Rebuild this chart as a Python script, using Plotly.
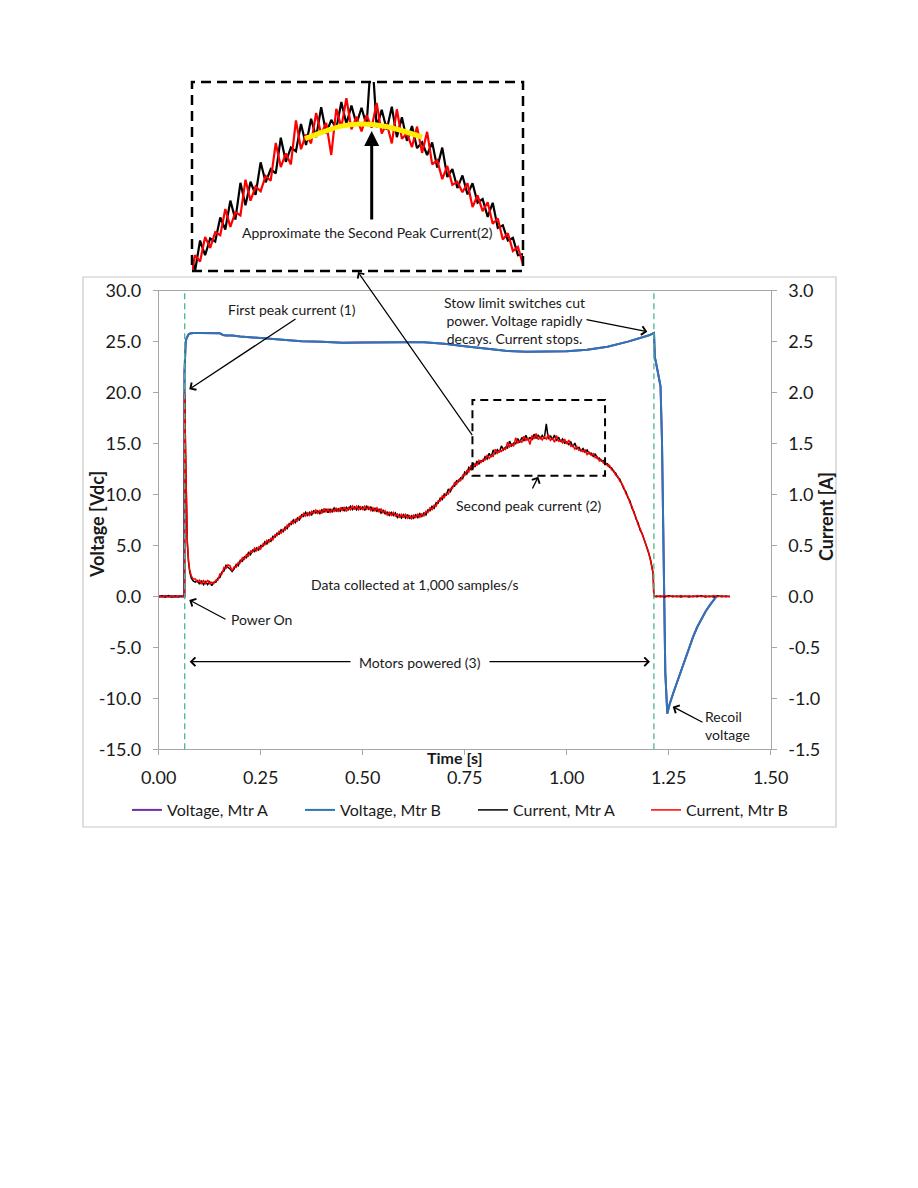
import plotly.graph_objects as go

W, H = 918, 1188
ML, MR, MT, MB = 82, 82, 82, 360
PW = W - ML - MR
PH = H - MT - MB


def px(x):
    return (x - ML) / PW


def py(y):
    return (H - MB - y) / PH


FONT = "Lato, 'Open Sans', sans-serif"

# ---------------- data ----------------
# Voltage (V)
volt_t = [0.000, 0.030, 0.0630, 0.0632, 0.064, 0.066, 0.068, 0.070, 0.073, 0.077, 0.085, 0.100,
          0.130, 0.150, 0.158, 0.165, 0.180, 0.200, 0.250, 0.300, 0.350, 0.400, 0.450, 0.500,
          0.550, 0.600, 0.650, 0.700, 0.750, 0.800, 0.850, 0.900, 0.950, 1.000, 1.050, 1.100,
          1.150, 1.180, 1.200, 1.214, 1.216, 1.223, 1.230, 1.2335, 1.235, 1.237, 1.2385, 1.2417,
          1.2466, 1.252, 1.261, 1.270, 1.280, 1.290, 1.300, 1.310, 1.320, 1.330, 1.340,
          1.350, 1.360, 1.367]
volt_b = [0.0, 0.0, 0.0, 22.0, 24.0, 24.9, 25.3, 25.55, 25.7, 25.8, 25.85, 25.85,
          25.85, 25.82, 25.65, 25.6, 25.6, 25.5, 25.35, 25.2, 25.05, 25.0, 24.9, 24.92,
          24.95, 24.95, 24.93, 24.8, 24.55, 24.3, 24.1, 24.0, 24.0, 24.05, 24.2, 24.5,
          25.0, 25.35, 25.6, 25.85, 23.5, 22.1, 20.6, 15.35, 10.44, 3.9, -2.64, -7.5,
          -11.5, -10.6, -9.5, -8.5, -7.4, -6.2, -5.0, -3.95, -3.0, -2.2, -1.5,
          -0.9, -0.35, 0.0]
volt_a = list(volt_b)

# Current (A) - before power on
cur_t_pre = [0.000, 0.008, 0.016, 0.024, 0.032, 0.040, 0.048, 0.056, 0.063]
cur_b_pre = [0.006, -0.006, 0.008, -0.004, 0.007, -0.008, 0.004, 0.007, 0.000]
cur_a_pre = [-0.004, 0.006, -0.005, 0.008, -0.006, 0.005, -0.004, 0.005, 0.000]
# first peak and decay
cur_t_rise = [0.0635, 0.066, 0.068, 0.070, 0.073, 0.076, 0.080, 0.085]
cur_b_rise = [2.00, 1.40, 0.90, 0.55, 0.36, 0.26, 0.20, 0.17]
cur_a_rise = [1.99, 1.38, 0.88, 0.53, 0.34, 0.24, 0.18, 0.15]
# main powered period, sampled every 5 ms starting at 0.090 s
cur_main_t0 = 0.090
cur_main_dt = 0.005
cur_b_main = [
    0.170, 0.140, 0.160, 0.125, 0.155, 0.125, 0.160, 0.125, 0.140, 0.125,
    0.160, 0.160, 0.220, 0.220, 0.285, 0.275, 0.310, 0.300, 0.250, 0.290,
    0.285, 0.335, 0.330, 0.380, 0.365, 0.410, 0.395, 0.445, 0.435, 0.475,
    0.450, 0.485, 0.465, 0.515, 0.505, 0.550, 0.530, 0.570, 0.555, 0.605,
    0.595, 0.640, 0.620, 0.660, 0.650, 0.700, 0.690, 0.735, 0.715, 0.755,
    0.740, 0.785, 0.775, 0.815, 0.790, 0.820, 0.795, 0.835, 0.815, 0.848,
    0.815, 0.843, 0.815, 0.863, 0.830, 0.857, 0.825, 0.855, 0.833, 0.868,
    0.830, 0.867, 0.845, 0.878, 0.835, 0.872, 0.850, 0.887, 0.858, 0.885,
    0.850, 0.880, 0.853, 0.885, 0.855, 0.880, 0.842, 0.870, 0.840, 0.870,
    0.830, 0.858, 0.820, 0.840, 0.798, 0.825, 0.795, 0.825, 0.790, 0.810,
    0.772, 0.805, 0.778, 0.805, 0.768, 0.792, 0.762, 0.798, 0.775, 0.808,
    0.777, 0.810, 0.790, 0.835, 0.825, 0.870, 0.850, 0.895, 0.885, 0.940,
    0.935, 0.985, 0.970, 1.015, 1.005, 1.060, 1.060, 1.115, 1.100, 1.145,
    1.135, 1.190, 1.185, 1.235, 1.220, 1.285, 1.250, 1.300, 1.288, 1.335,
    1.314, 1.344, 1.338, 1.388, 1.354, 1.382, 1.376, 1.444, 1.404, 1.431,
    1.422, 1.451, 1.442, 1.514, 1.468, 1.494, 1.473, 1.557, 1.502, 1.530,
    1.513, 1.571, 1.531, 1.552, 1.491, 1.579, 1.544, 1.599, 1.540, 1.564,
    1.536, 1.567, 1.543, 1.590, 1.532, 1.551, 1.513, 1.578, 1.522, 1.532,
    1.506, 1.545, 1.495, 1.535, 1.473, 1.481, 1.445, 1.470, 1.434, 1.440,
    1.420, 1.437, 1.392, 1.414, 1.384, 1.401, 1.360, 1.370, 1.330, 1.342,
    1.308, 1.316, 1.282, 1.287, 1.242, 1.236, 1.190, 1.182, 1.132, 1.110,
    1.070, 1.008, 0.980, 0.918, 0.885, 0.815, 0.775, 0.702, 0.665, 0.607,
    0.570, 0.500, 0.445, 0.360, 0.280]
cur_a_main = [
    0.140, 0.155, 0.120, 0.155, 0.115, 0.145, 0.115, 0.145, 0.105, 0.140,
    0.140, 0.180, 0.185, 0.240, 0.250, 0.305, 0.285, 0.270, 0.245, 0.270,
    0.315, 0.300, 0.355, 0.345, 0.390, 0.380, 0.430, 0.410, 0.455, 0.440,
    0.475, 0.455, 0.500, 0.490, 0.535, 0.515, 0.555, 0.540, 0.590, 0.580,
    0.620, 0.610, 0.655, 0.635, 0.680, 0.665, 0.715, 0.705, 0.750, 0.725,
    0.770, 0.750, 0.800, 0.785, 0.825, 0.795, 0.825, 0.800, 0.840, 0.818,
    0.840, 0.813, 0.850, 0.828, 0.860, 0.822, 0.855, 0.830, 0.868, 0.838,
    0.860, 0.837, 0.875, 0.838, 0.875, 0.852, 0.885, 0.852, 0.878, 0.850,
    0.885, 0.855, 0.878, 0.845, 0.885, 0.855, 0.877, 0.840, 0.865, 0.835,
    0.855, 0.818, 0.845, 0.810, 0.828, 0.795, 0.825, 0.795, 0.820, 0.775,
    0.802, 0.770, 0.803, 0.770, 0.803, 0.762, 0.792, 0.768, 0.800, 0.773,
    0.812, 0.785, 0.820, 0.800, 0.850, 0.840, 0.885, 0.865, 0.920, 0.915,
    0.965, 0.950, 1.005, 0.995, 1.055, 1.030, 1.080, 1.080, 1.135, 1.125,
    1.165, 1.155, 1.220, 1.200, 1.265, 1.245, 1.310, 1.270, 1.328, 1.300,
    1.332, 1.326, 1.372, 1.349, 1.404, 1.368, 1.438, 1.395, 1.440, 1.415,
    1.477, 1.439, 1.464, 1.456, 1.524, 1.478, 1.505, 1.498, 1.550, 1.510,
    1.560, 1.525, 1.582, 1.532, 1.558, 1.541, 1.592, 1.550, 1.585, 1.550,
    1.581, 1.547, 1.693, 1.544, 1.577, 1.539, 1.583, 1.525, 1.563, 1.518,
    1.546, 1.504, 1.515, 1.491, 1.515, 1.467, 1.505, 1.449, 1.464, 1.428,
    1.452, 1.416, 1.437, 1.400, 1.407, 1.373, 1.400, 1.352, 1.357, 1.328,
    1.333, 1.300, 1.302, 1.266, 1.262, 1.224, 1.210, 1.166, 1.152, 1.098,
    1.055, 1.028, 0.970, 0.938, 0.865, 0.830, 0.760, 0.722, 0.650, 0.617,
    0.560, 0.510, 0.435, 0.370, 0.280]
# power cut and after
cur_t_end = [1.212, 1.2135, 1.22, 1.23, 1.24, 1.25, 1.26, 1.27, 1.28, 1.29, 1.30, 1.31,
             1.32, 1.33, 1.34, 1.35, 1.36, 1.37, 1.38, 1.39, 1.40]
cur_b_end = [0.227, 0.000, 0.007, -0.005, 0.008, -0.004, 0.006, -0.006, 0.009, -0.004, 0.006,
             -0.005, 0.008, -0.004, 0.007, -0.005, 0.009, -0.004, 0.006, -0.006, 0.004]
cur_a_end = [0.222, 0.000, -0.004, 0.005, -0.005, 0.006, -0.004, 0.005, -0.005, 0.004, -0.006,
             0.005, -0.004, 0.006, -0.005, 0.004, -0.005, 0.006, -0.004, 0.005, -0.003]

# yellow approximation arc (inset)
arc_t = [0.884, 0.905, 0.920, 0.937, 0.955, 0.975, 1.000]
arc_a = [1.522, 1.537, 1.546, 1.550, 1.548, 1.540, 1.525]

# tick labels
x_ticks = [0.0, 0.25, 0.5, 0.75, 1.0, 1.25, 1.5]
x_ticktext = ["0.00", "0.25", "0.50", "0.75", "1.00", "1.25", "1.50"]
yl_ticks = [-15, -10, -5, 0, 5, 10, 15, 20, 25, 30]
yl_ticktext = ["-15.0", "-10.0", "-5.0", "0.0", "5.0", "10.0", "15.0", "20.0", "25.0", "30.0"]
yr_ticks = [-1.5, -1.0, -0.5, 0.0, 0.5, 1.0, 1.5, 2.0, 2.5, 3.0]
yr_ticktext = ["-1.5", "-1.0", "-0.5", "0.0", "0.5", "1.0", "1.5", "2.0", "2.5", "3.0"]

# assemble current series
main_t = [round(cur_main_t0 + i * cur_main_dt, 4) for i in range(len(cur_b_main))]
cur_t = cur_t_pre + cur_t_rise + main_t + cur_t_end
cur_b = cur_b_pre + cur_b_rise + cur_b_main + cur_b_end
cur_a = cur_a_pre + cur_a_rise + cur_a_main + cur_a_end

C_PURPLE = "#7030A0"
C_BLUE = "#2E75B6"
C_BLACK = "#000000"
C_RED = "#FF0000"
C_GREEN = "#4DB88A"
AX = "#A6A6A6"

fig = go.Figure()
fig.add_trace(go.Scatter(x=volt_t, y=volt_a, mode="lines", name="Voltage, Mtr A",
                         line=dict(color=C_PURPLE, width=2), xaxis="x", yaxis="y"))
fig.add_trace(go.Scatter(x=volt_t, y=volt_b, mode="lines", name="Voltage, Mtr B",
                         line=dict(color=C_BLUE, width=2), xaxis="x", yaxis="y"))
fig.add_trace(go.Scatter(x=cur_t, y=cur_a, mode="lines", name="Current, Mtr A",
                         line=dict(color=C_BLACK, width=1.5), xaxis="x", yaxis="y2"))
fig.add_trace(go.Scatter(x=cur_t, y=cur_b, mode="lines", name="Current, Mtr B",
                         line=dict(color=C_RED, width=1.5), xaxis="x", yaxis="y2"))
# inset
fig.add_trace(go.Scatter(x=cur_t, y=cur_a, mode="lines", showlegend=False,
                         line=dict(color=C_BLACK, width=2.2), xaxis="x3", yaxis="y3"))
fig.add_trace(go.Scatter(x=cur_t, y=cur_b, mode="lines", showlegend=False,
                         line=dict(color=C_RED, width=2.2), xaxis="x3", yaxis="y3"))
fig.add_trace(go.Scatter(x=arc_t, y=arc_a, mode="lines", showlegend=False,
                         line=dict(color="#FFEE00", width=5, shape="spline"), xaxis="x3", yaxis="y3"))

tickfont = dict(family=FONT, size=18, color="#1a1a1a")
fig.update_layout(
    width=W, height=H,
    margin=dict(l=ML, r=MR, t=MT, b=MB, autoexpand=False),
    paper_bgcolor="white", plot_bgcolor="white",
    font=dict(family=FONT, color="#1a1a1a"),
    xaxis=dict(domain=[px(158.7), px(770.7)], range=[0, 1.5], tickvals=x_ticks, ticktext=x_ticktext,
               showline=True, linecolor=AX, linewidth=1, mirror=True, ticks="outside", ticklen=5,
               tickcolor=AX, showgrid=False, zeroline=False, tickfont=tickfont, anchor="y",
               ticklabelstandoff=7),
    yaxis=dict(domain=[py(749.3), py(290.7)], range=[-15, 30], tickvals=yl_ticks, ticktext=yl_ticktext,
               showline=True, linecolor=AX, linewidth=1, ticks="outside", ticklen=5, tickcolor=AX,
               showgrid=False, zeroline=False, tickfont=tickfont, anchor="x", ticklabelstandoff=8),
    yaxis2=dict(overlaying="y", side="right", anchor="x", range=[-1.5, 3.0], tickvals=yr_ticks,
                ticktext=yr_ticktext, showline=True, linecolor=AX, linewidth=1, ticks="outside",
                ticklen=5, tickcolor=AX, showgrid=False, zeroline=False, tickfont=tickfont,
                ticklabelstandoff=8),
    xaxis3=dict(domain=[px(192), px(523)], range=[0.772, 1.10], visible=False, anchor="y3"),
    yaxis3=dict(domain=[py(271), py(82)], range=[1.27, 1.63], visible=False, anchor="x3"),
    showlegend=True,
    legend=dict(orientation="h", x=px(127), y=py(810), xanchor="left", yanchor="middle",
                font=dict(family=FONT, size=16, color="#1a1a1a"), bgcolor="rgba(0,0,0,0)",
                itemwidth=30, tracegroupgap=0, entrywidth=128, entrywidthmode="pixels"),
)

shapes = [
    dict(type="rect", xref="paper", yref="paper", x0=px(83), x1=px(836), y0=py(827), y1=py(277),
         line=dict(color="#C8C8C8", width=1.2), layer="below"),
    dict(type="line", xref="x", yref="y", x0=0.0637, x1=0.0637, y0=-15, y1=30,
         line=dict(color=C_GREEN, width=1.3, dash="6px,4px"), layer="above"),
    dict(type="line", xref="x", yref="y", x0=1.2137, x1=1.2137, y0=-15, y1=30,
         line=dict(color=C_GREEN, width=1.3, dash="6px,4px"), layer="above"),
    dict(type="rect", xref="x", yref="y", x0=0.769, x1=1.094, y0=11.85, y1=19.27,
         line=dict(color="black", width=2, dash="8px,5px"), layer="above"),
    dict(type="rect", xref="paper", yref="paper", x0=px(192), x1=px(523), y0=py(271), y1=py(82),
         line=dict(color="black", width=2.5, dash="10px,6px"), layer="above"),
]
fig.update_layout(shapes=shapes)

annos = []


def text(x, y, s, size=14, bold=False, angle=0, xanchor="center", align="center"):
    if bold:
        s = "<b>" + s + "</b>"
    annos.append(dict(xref="paper", yref="paper", x=px(x), y=py(y), text=s, showarrow=False,
                      xanchor=xanchor, yanchor="middle", align=align, textangle=angle,
                      font=dict(family=FONT, size=size, color="#1a1a1a")))


def arrow(hx, hy, tx, ty, width=1.3, head=4, size=1.3):
    annos.append(dict(xref="paper", yref="paper", x=px(hx), y=py(hy), ax=tx - hx, ay=ty - hy,
                      axref="pixel", ayref="pixel", text="", showarrow=True, arrowhead=head,
                      arrowsize=size, arrowwidth=width, arrowcolor="black", standoff=0,
                      startstandoff=0))


text(292, 309, "First peak current (1)")
arrow(189.3, 389.3, 297, 318)
text(514, 320, "Stow limit switches cut<br>power. Voltage rapidly<br>decays. Current stops.")
arrow(647.3, 331.7, 585, 319.3)
text(529, 506, "Second peak current (2)")
arrow(538.3, 476.7, 531.7, 490)
text(415, 584, "Data collected at 1,000 samples/s")
text(261, 619, "Power On")
arrow(189.3, 600, 227, 620)
text(420, 662, "Motors powered (3)")
arrow(189.7, 661.7, 352, 661.7)
arrow(650, 661.7, 488, 661.7)
text(703, 725, "Recoil<br>voltage", xanchor="left", align="left")
arrow(672.7, 706.7, 704, 723)
text(367, 232, "Approximate the Second Peak Current(2)")
arrow(371.7, 131, 371.7, 221, width=3, head=2, size=1)
arrow(358, 272, 473.3, 436.7, width=1.2)
text(97, 525, "Voltage [Vdc]", size=18, bold=True, angle=-90)
text(826, 517, "Current [A]", size=18, bold=True, angle=-90)
text(455, 757, "Time [s]", size=16, bold=True)
fig.update_layout(annotations=annos)

fig.write_html("out.html")
